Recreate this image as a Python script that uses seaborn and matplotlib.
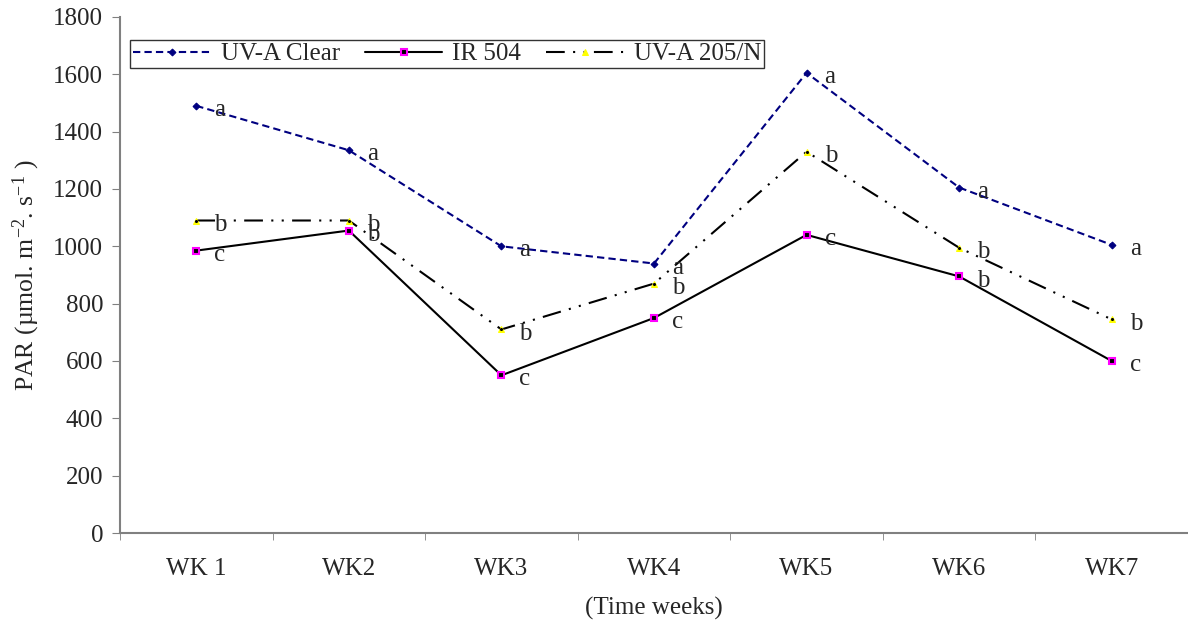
import numpy as np
import pandas as pd
import matplotlib
matplotlib.use("Agg")
import matplotlib.pyplot as plt
import seaborn as sns

# Datos
semanas = ["WK 1", "WK2", "WK3", "WK4", "WK5", "WK6", "WK7"]
uva_clear = [1490, 1335, 1000, 940, 1605, 1205, 1005]
ir_504 = [985, 1055, 550, 750, 1040, 895, 600]
uva_205n = [1090, 1090, 710, 870, 1330, 995, 745]

letras_clear = ["a", "a", "a", "a", "a", "a", "a"]
letras_ir = ["c", "b", "c", "c", "c", "b", "c"]
letras_205 = ["b", "b", "b", "b", "b", "b", "b"]

sns.set_style("white")
plt.rcParams["font.family"] = ["Liberation Serif", "DejaVu Serif"]
plt.rcParams["mathtext.fontset"] = "custom"
plt.rcParams["mathtext.rm"] = "Liberation Serif"
plt.rcParams["mathtext.it"] = "Liberation Serif:italic"

fs = 18

fig = plt.figure(figsize=(11.88, 6.21), dpi=100)
ax = fig.add_axes([0.101, 0.1417, 0.899, 0.831])

series = [
    ("UV-A Clear", uva_clear, letras_clear,
     dict(color="#000080", linestyle=(0, (3.5, 2)), marker="D", markersize=3.5,
          markerfacecolor="#000080", markeredgecolor="#000080", linewidth=1.5)),
    ("IR 504", ir_504, letras_ir,
     dict(color="black", linestyle="-", marker="s", markersize=4.5,
          markerfacecolor="black", markeredgecolor="#ff00ff", markeredgewidth=1.5,
          linewidth=1.5)),
    ("UV-A 205/N", uva_205n, letras_205,
     dict(color="black", linestyle=(0, (9, 4, 1, 4, 1, 4)), marker="^", markersize=5,
          markerfacecolor="#ffff00", markeredgecolor="#ffff00", linewidth=1.5)),
]

for nombre, valores, letras, estilo in series:
    df = pd.DataFrame({"semana": semanas, "par": valores})
    sns.lineplot(data=df, x="semana", y="par", ax=ax, label=nombre, sort=False, **estilo)
    for i, (v, l) in enumerate(zip(valores, letras)):
        ax.annotate(l, (i, v), xytext=(13, -3), textcoords="offset points",
                    ha="left", va="center", fontsize=fs)

# punto negro dentro de los triangulos amarillos
ax.scatter(range(len(semanas)), uva_205n, s=1.5, color="black", zorder=5)

ax.set_xlim(-0.5, 6.5)
ax.set_ylim(0, 1800)
ax.set_yticks(np.arange(0, 1801, 200))
ax.set_xticks(range(len(semanas)))
ax.set_xticklabels(semanas)
ax.set_xticks(np.arange(-0.5, 6.6, 1), minor=True)
ax.tick_params(axis="x", which="major", length=0, pad=18, labelsize=fs)
ax.tick_params(axis="x", which="minor", length=5, direction="out", color="#808080", bottom=True)
ax.tick_params(axis="y", length=6, direction="out", color="#808080", labelsize=fs, left=True, pad=6)

for s in ["top", "right"]:
    ax.spines[s].set_visible(False)
for s in ["left", "bottom"]:
    ax.spines[s].set_color("#808080")
    ax.spines[s].set_linewidth(1.5)

ax.set_xlabel("(Time weeks)", fontsize=fs, labelpad=12)
ax.set_ylabel(r"PAR (µmol. m$^{\mathregular{-2}}$. s$^{\mathregular{-1}}$ )", fontsize=18.5, labelpad=8)

leg = ax.legend(loc="upper left", bbox_to_anchor=(-0.002, 0.98), ncol=3, fontsize=fs,
                frameon=True, fancybox=False, edgecolor="black", handlelength=3.1,
                columnspacing=1.0, borderpad=0.12, handletextpad=0.4)
leg.get_frame().set_linewidth(1.0)

fig.savefig("out.png", dpi=100)
